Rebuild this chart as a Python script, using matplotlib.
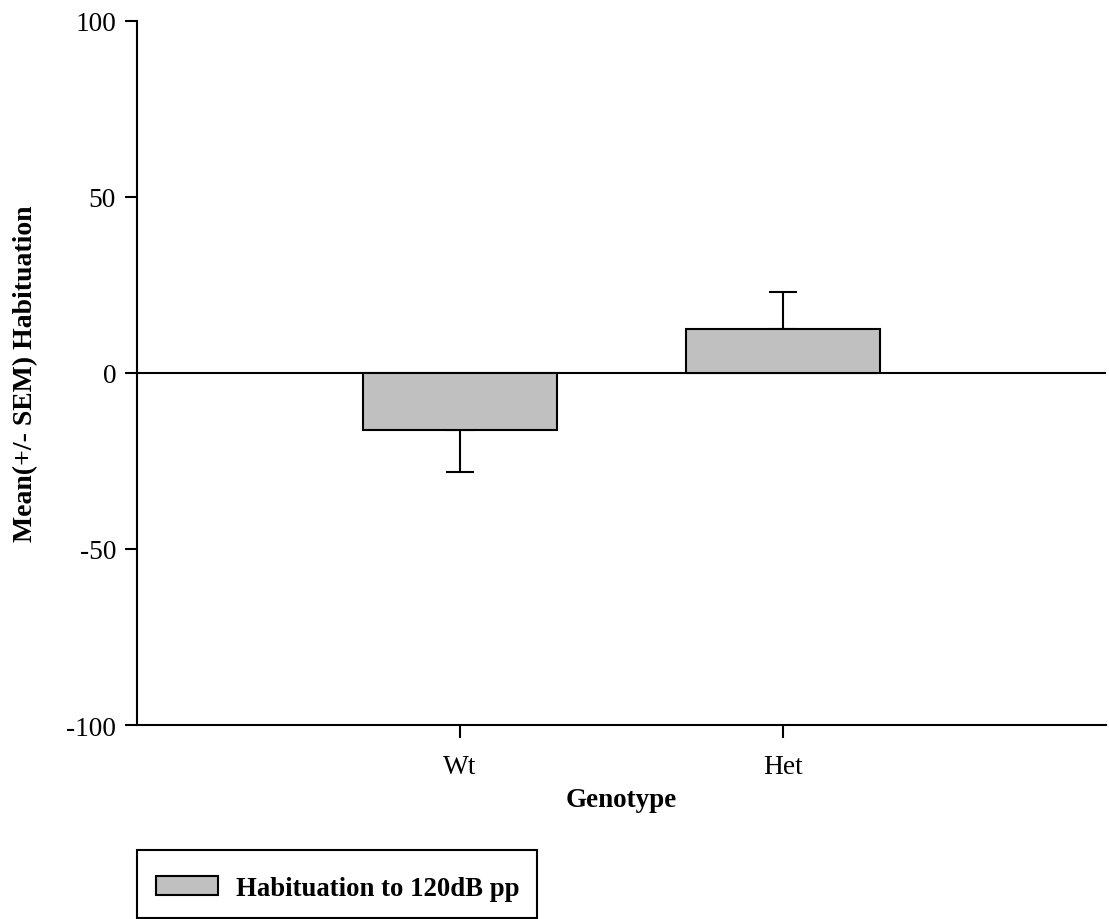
import matplotlib
matplotlib.use("Agg")
import matplotlib.pyplot as plt
from matplotlib.patches import Patch, Rectangle

categories = ["Wt", "Het"]
means = [-16.1, 12.5]
sem_lower = [12.0, 0.0]
sem_upper = [0.0, 10.4]
series_label = "Habituation to 120dB pp"
yticks = [-100, -50, 0, 50, 100]

plt.rcParams['font.family'] = ['Liberation Serif', 'DejaVu Serif']

W, H = 1109, 920
fig = plt.figure(figsize=(W/100, H/100), dpi=100)
ax = fig.add_axes([137/W, 1 - 726/H, (1106-137)/W, (726-21.7)/H])

x = list(range(len(categories)))
ax.bar(x, means, width=0.6, color='#c0c0c0', edgecolor='black', linewidth=1.5, zorder=3)
ax.errorbar(x, means, yerr=[sem_lower, sem_upper], fmt='none', ecolor='black',
            elinewidth=1.5, capsize=10, capthick=1.5, zorder=2)
ax.axhline(0, color='black', linewidth=1.5, zorder=1)

ax.set_xlim(-1, 2)
ax.set_ylim(-100, 100)
ax.set_yticks(yticks)
ax.set_yticklabels([str(v) for v in yticks])
ax.set_xticks(x)
ax.set_xticklabels(categories)
ax.spines['top'].set_visible(False)
ax.spines['right'].set_visible(False)
for s in ['left', 'bottom']:
    ax.spines[s].set_linewidth(1.5)
ax.tick_params(axis='both', direction='out', length=9, width=1.5, labelsize=19.7, pad=6)
ax.tick_params(axis='x', pad=12)

ax.set_xlabel("Genotype", fontsize=19.5, fontweight='bold', labelpad=5.5)
ax.set_ylabel("Mean(+/- SEM) Habituation", fontsize=20, fontweight='bold', labelpad=20)

handle = Patch(facecolor='#c0c0c0', edgecolor='black', linewidth=1.5)
leg = fig.legend([handle], [series_label], loc='upper left',
                 bbox_to_anchor=(137/W, 1 - 858/H), frameon=False,
                 prop={'weight': 'bold', 'size': 19.3},
                 handlelength=2.31, handleheight=0.71, borderpad=0.72,
                 borderaxespad=0, handletextpad=0.67)
fig.patches.append(Rectangle((137/W, 1 - 918.5/H), 400/W, 67.5/H,
                             transform=fig.transFigure, fill=False,
                             edgecolor='black', linewidth=1.5))

fig.savefig("out.png", dpi=100)
